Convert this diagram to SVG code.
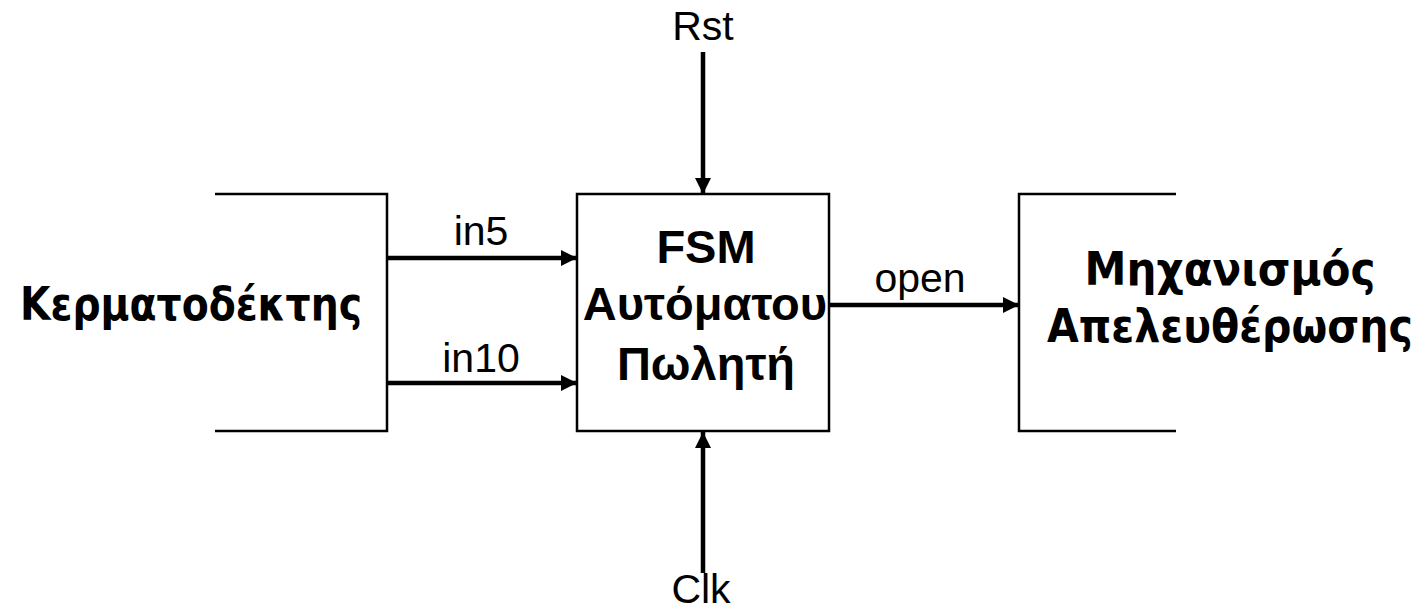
<svg xmlns="http://www.w3.org/2000/svg" width="1424" height="613" viewBox="0 0 1424 613">
<style>
.box{fill:none;stroke:#000;stroke-width:2.5}
.wire{stroke:#000;stroke-width:4.5;fill:none}
.lbl{font-family:"Liberation Sans",Arial,sans-serif;font-size:41px;fill:#000;text-anchor:middle}
.fsm{font-family:"Liberation Sans",Arial,sans-serif;font-size:47px;font-weight:bold;fill:#000;text-anchor:middle}
.big{font-family:"DejaVu Sans","Liberation Sans",sans-serif;font-size:46px;font-weight:bold;fill:#000;text-anchor:middle}
</style>
<defs>
<marker id="ah" viewBox="0 0 16 16" refX="16" refY="8" markerWidth="16" markerHeight="16" markerUnits="userSpaceOnUse" orient="auto">
<path d="M0,0 L16,8 L0,16 Z" fill="#000"/>
</marker>
</defs>
<rect width="1424" height="613" fill="#fff"/>
<g id="coin-acceptor">
<path class="box" d="M215,194 H387 V431 H215"/>
<text class="big" x="191" y="320" textLength="342" lengthAdjust="spacingAndGlyphs">Κερματοδέκτης</text>
</g>
<g id="fsm">
<rect class="box" x="577" y="194" width="252" height="237"/>
<text class="fsm" x="706" y="263">FSM</text>
<text class="fsm" x="705" y="320">Αυτόματου</text>
<text class="fsm" x="706" y="380">Πωλητή</text>
</g>
<g id="release">
<path class="box" d="M1176,194 H1019 V431 H1176"/>
<text class="big" x="1230" y="285" textLength="291" lengthAdjust="spacingAndGlyphs">Μηχανισμός</text>
<text class="big" x="1230" y="342" textLength="366" lengthAdjust="spacingAndGlyphs">Απελευθέρωσης</text>
</g>
<g id="connectors">
<line class="wire" x1="388" y1="258" x2="577" y2="258" marker-end="url(#ah)"/>
<line class="wire" x1="388" y1="383" x2="577" y2="383" marker-end="url(#ah)"/>
<line class="wire" x1="829" y1="305" x2="1019" y2="305" marker-end="url(#ah)"/>
<line class="wire" x1="703" y1="52" x2="703" y2="194" marker-end="url(#ah)"/>
<line class="wire" x1="703" y1="573" x2="703" y2="432" marker-end="url(#ah)"/>
<text class="lbl" x="481" y="245">in5</text>
<text class="lbl" x="481" y="372">in10</text>
<text class="lbl" x="920" y="292">open</text>
<text class="lbl" x="703" y="40">Rst</text>
<text class="lbl" x="701" y="603">Clk</text>
</g>
</svg>
